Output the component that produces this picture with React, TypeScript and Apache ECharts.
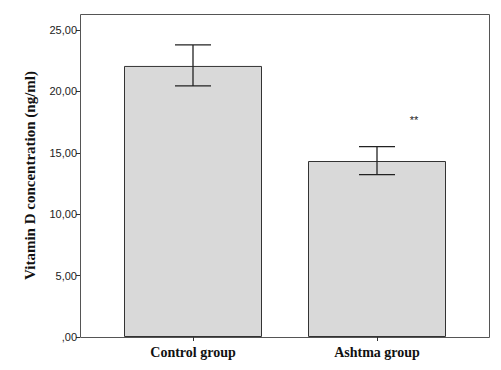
import React, { useEffect, useRef } from "react";
import * as echarts from "echarts";

const categories = ["Control group", "Ashtma group"];
const means = [22.07, 14.33];
const errLow = [20.44, 13.22];
const errHigh = [23.78, 15.5];
const sigMarks = ["", "**"];
const sigY = [0, 17.7];
const yTicks = [0, 5, 10, 15, 20, 25];

export default function App() {
  const ref = useRef<HTMLDivElement>(null);
  useEffect(() => {
    if (!ref.current) return;
    const chart = echarts.init(ref.current, null, { renderer: "svg" });
    const fmt = (v: number) => (v === 0 ? ",00" : v.toFixed(2).replace(".", ","));
    chart.setOption({
      animation: false,
      backgroundColor: "#ffffff",
      grid: { left: 101, right: 32, top: 14, bottom: 33, containLabel: false },
      graphic: [
        {
          type: "rect",
          shape: { x: 80.5, y: 14.5, width: 409, height: 323 },
          style: { fill: "none", stroke: "#555", lineWidth: 1 },
          z: 0,
        },
      ],
      xAxis: {
        type: "category",
        data: categories,
        axisLine: { show: false },
        axisTick: { show: true, alignWithLabel: true, length: 4, lineStyle: { color: "#333" } },
        axisLabel: {
          margin: 8,
          fontFamily: "Liberation Serif",
          fontWeight: "bold",
          fontSize: 14,
          color: "#111",
        },
      },
      yAxis: {
        type: "value",
        min: 0,
        max: 26.3,
        offset: 21,
        splitLine: { show: false },
        axisLine: { show: false },
        axisTick: { show: true, length: 4, customValues: yTicks, lineStyle: { color: "#333" } },
        axisLabel: {
          customValues: yTicks,
          formatter: fmt,
          margin: 3,
          fontFamily: "Liberation Sans",
          fontSize: 11,
          color: "#222",
        },
        name: "Vitamin D concentration (ng/ml)",
        nameLocation: "middle",
        nameGap: 43,
        nameRotate: 90,
        nameTextStyle: {
          fontFamily: "Liberation Serif",
          fontWeight: "bold",
          fontSize: 15,
          color: "#111",
        },
      },
      series: [
        {
          type: "bar",
          data: means,
          barWidth: 138,
          itemStyle: { color: "#d9d9d9", borderColor: "#333", borderWidth: 1 },
          z: 2,
        },
        {
          type: "custom",
          z: 3,
          data: categories.map((_, i) => [i, errLow[i], errHigh[i]]),
          renderItem: (params: any, api: any) => {
            const x = api.value(0);
            const lo = api.coord([x, api.value(1)]);
            const hi = api.coord([x, api.value(2)]);
            const half = 18;
            const st = { stroke: "#222", lineWidth: 1.3 };
            return {
              type: "group",
              children: [
                { type: "line", shape: { x1: hi[0], y1: hi[1], x2: lo[0], y2: lo[1] }, style: st },
                { type: "line", shape: { x1: hi[0] - half, y1: hi[1], x2: hi[0] + half, y2: hi[1] }, style: st },
                { type: "line", shape: { x1: lo[0] - half, y1: lo[1], x2: lo[0] + half, y2: lo[1] }, style: st },
              ],
            };
          },
        },
        {
          type: "custom",
          z: 4,
          data: categories.map((_, i) => [i, sigY[i]]),
          renderItem: (params: any, api: any) => {
            const i = params.dataIndex;
            if (!sigMarks[i]) return null;
            const p = api.coord([api.value(0), api.value(1)]);
            return {
              type: "text",
              x: p[0] + 37,
              y: p[1],
              style: {
                text: sigMarks[i],
                fontFamily: "Liberation Sans",
                fontSize: 11,
                fill: "#222",
                align: "center",
                verticalAlign: "middle",
              },
            };
          },
        },
      ],
    });
    return () => chart.dispose();
  }, []);
  return (
    <div
      ref={ref}
      style={{ position: "fixed", left: 0, top: 0, width: 501, height: 370 }}
    />
  );
}
